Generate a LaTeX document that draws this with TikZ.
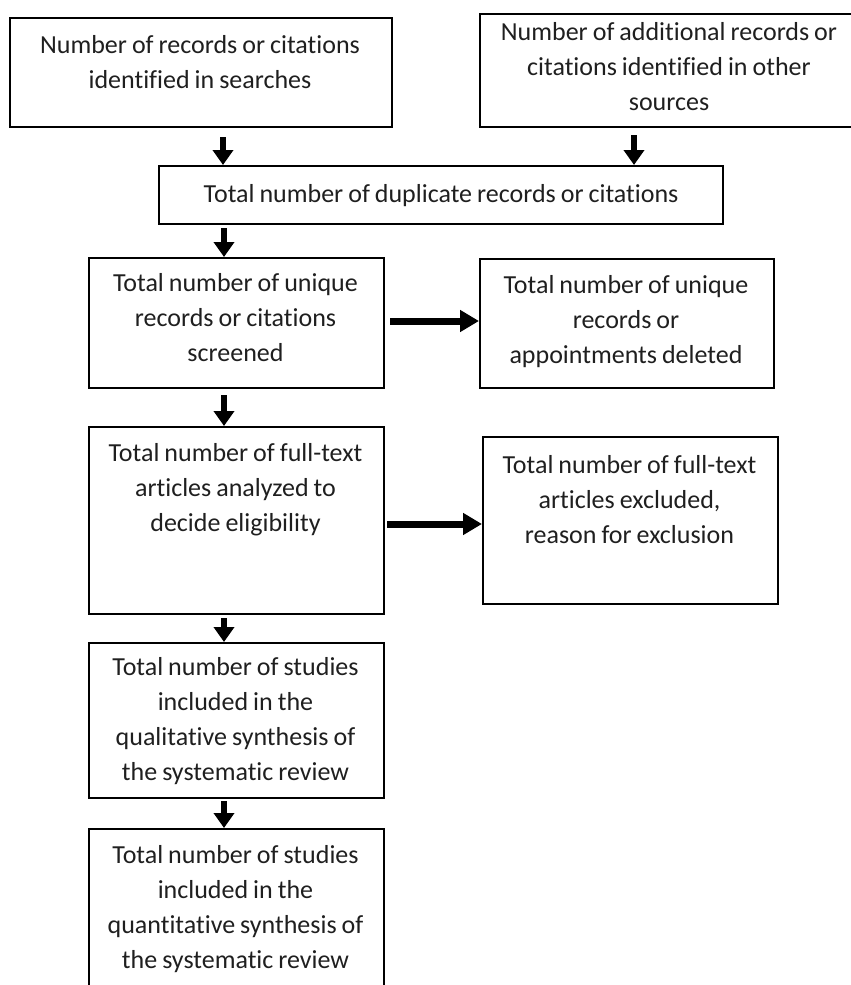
\documentclass[tikz,border=0pt]{standalone}
\usepackage{fontspec}
\setmainfont{Carlito}[Ligatures=NoCommon, WordSpace=0.85]
\usetikzlibrary{arrows.meta,calc}
\tikzset{
  box/.style={draw=black, line width=2.2pt, rectangle, inner sep=0pt, anchor=north west},
  txt/.style={align=center, inner sep=0pt, anchor=north, text=black!88, font=\fontsize{26}{35}\selectfont},
  varrow/.style={line width=6pt, -{Triangle[length=15pt,width=20pt]}},
  harrow/.style={line width=7pt, -{Triangle[length=19pt,width=21pt]}}
}
\begin{document}
\begin{tikzpicture}[x=1pt,y=-1pt]
\useasboundingbox (0,0) rectangle (851,985);
% boxes
\node[box, minimum width=382pt, minimum height=109pt] (b1) at (9,17) {};
\node[box, minimum width=380pt, minimum height=113pt] (b2) at (479,13) {};
\node[box, minimum width=564pt, minimum height=58pt] (dup) at (158,165) {};
\node[box, minimum width=295pt, minimum height=130pt] (uniq) at (88,257) {};
\node[box, minimum width=294pt, minimum height=129pt] (del) at (479,258) {};
\node[box, minimum width=295pt, minimum height=187pt] (full) at (88,426) {};
\node[box, minimum width=295pt, minimum height=167pt] (excl) at (482,436) {};
\node[box, minimum width=295pt, minimum height=155pt] (qual) at (88,642) {};
\node[box, minimum width=295pt, minimum height=172pt] (quant) at (88,828) {};
% texts
\node[txt] (b1t) at (200,35) {Number of records or citations\\identified in searches};
\node[txt] (b2t) at (669,22) {Number of additional records or\\citations identified in other\\sources};
\node[txt, anchor=center] (dupt) at (dup.center) {Total number of duplicate records or citations};
\node[txt] (uniqt) at (235.5,273) {Total number of unique\\records or citations\\screened};
\node[txt] (delt) at (626,275) {Total number of unique\\records or\\appointments deleted};
\node[txt] (fullt) at (235.5,443) {Total number of full-text\\articles analyzed to\\decide eligibility};
\node[txt] (exclt) at (629.5,455) {Total number of full-text\\articles excluded,\\reason for exclusion};
\node[txt] (qualt) at (235.5,657) {Total number of studies\\included in the\\qualitative synthesis of\\the systematic review};
\node[txt] (quantt) at (235.5,845) {Total number of studies\\included in the\\quantitative synthesis of\\the systematic review};
% connector columns
\coordinate (ca) at (223,0);
\coordinate (cb) at (634,0);
\coordinate (cc) at (224,0);
\coordinate (r1) at (0,321);
\coordinate (r2) at (0,524);
\draw[varrow, shorten <=9pt] (b1.south -| ca) -- (dup.north -| ca);
\draw[varrow, shorten <=7pt] (b2.south -| cb) -- (dup.north -| cb);
\draw[varrow, shorten <=3pt] (dup.south -| cc) -- (uniq.north -| cc);
\draw[varrow, shorten <=6pt] (uniq.south -| cc) -- (full.north -| cc);
\draw[varrow, shorten <=3pt] (full.south -| cc) -- (qual.north -| cc);
\draw[varrow, shorten <=2pt] (qual.south -| cc) -- (quant.north -| cc);
\draw[harrow, shorten <=5pt] (uniq.east |- r1) -- (del.west |- r1);
\draw[harrow, shorten <=2pt] (full.east |- r2) -- (excl.west |- r2);
\end{tikzpicture}
\end{document}
